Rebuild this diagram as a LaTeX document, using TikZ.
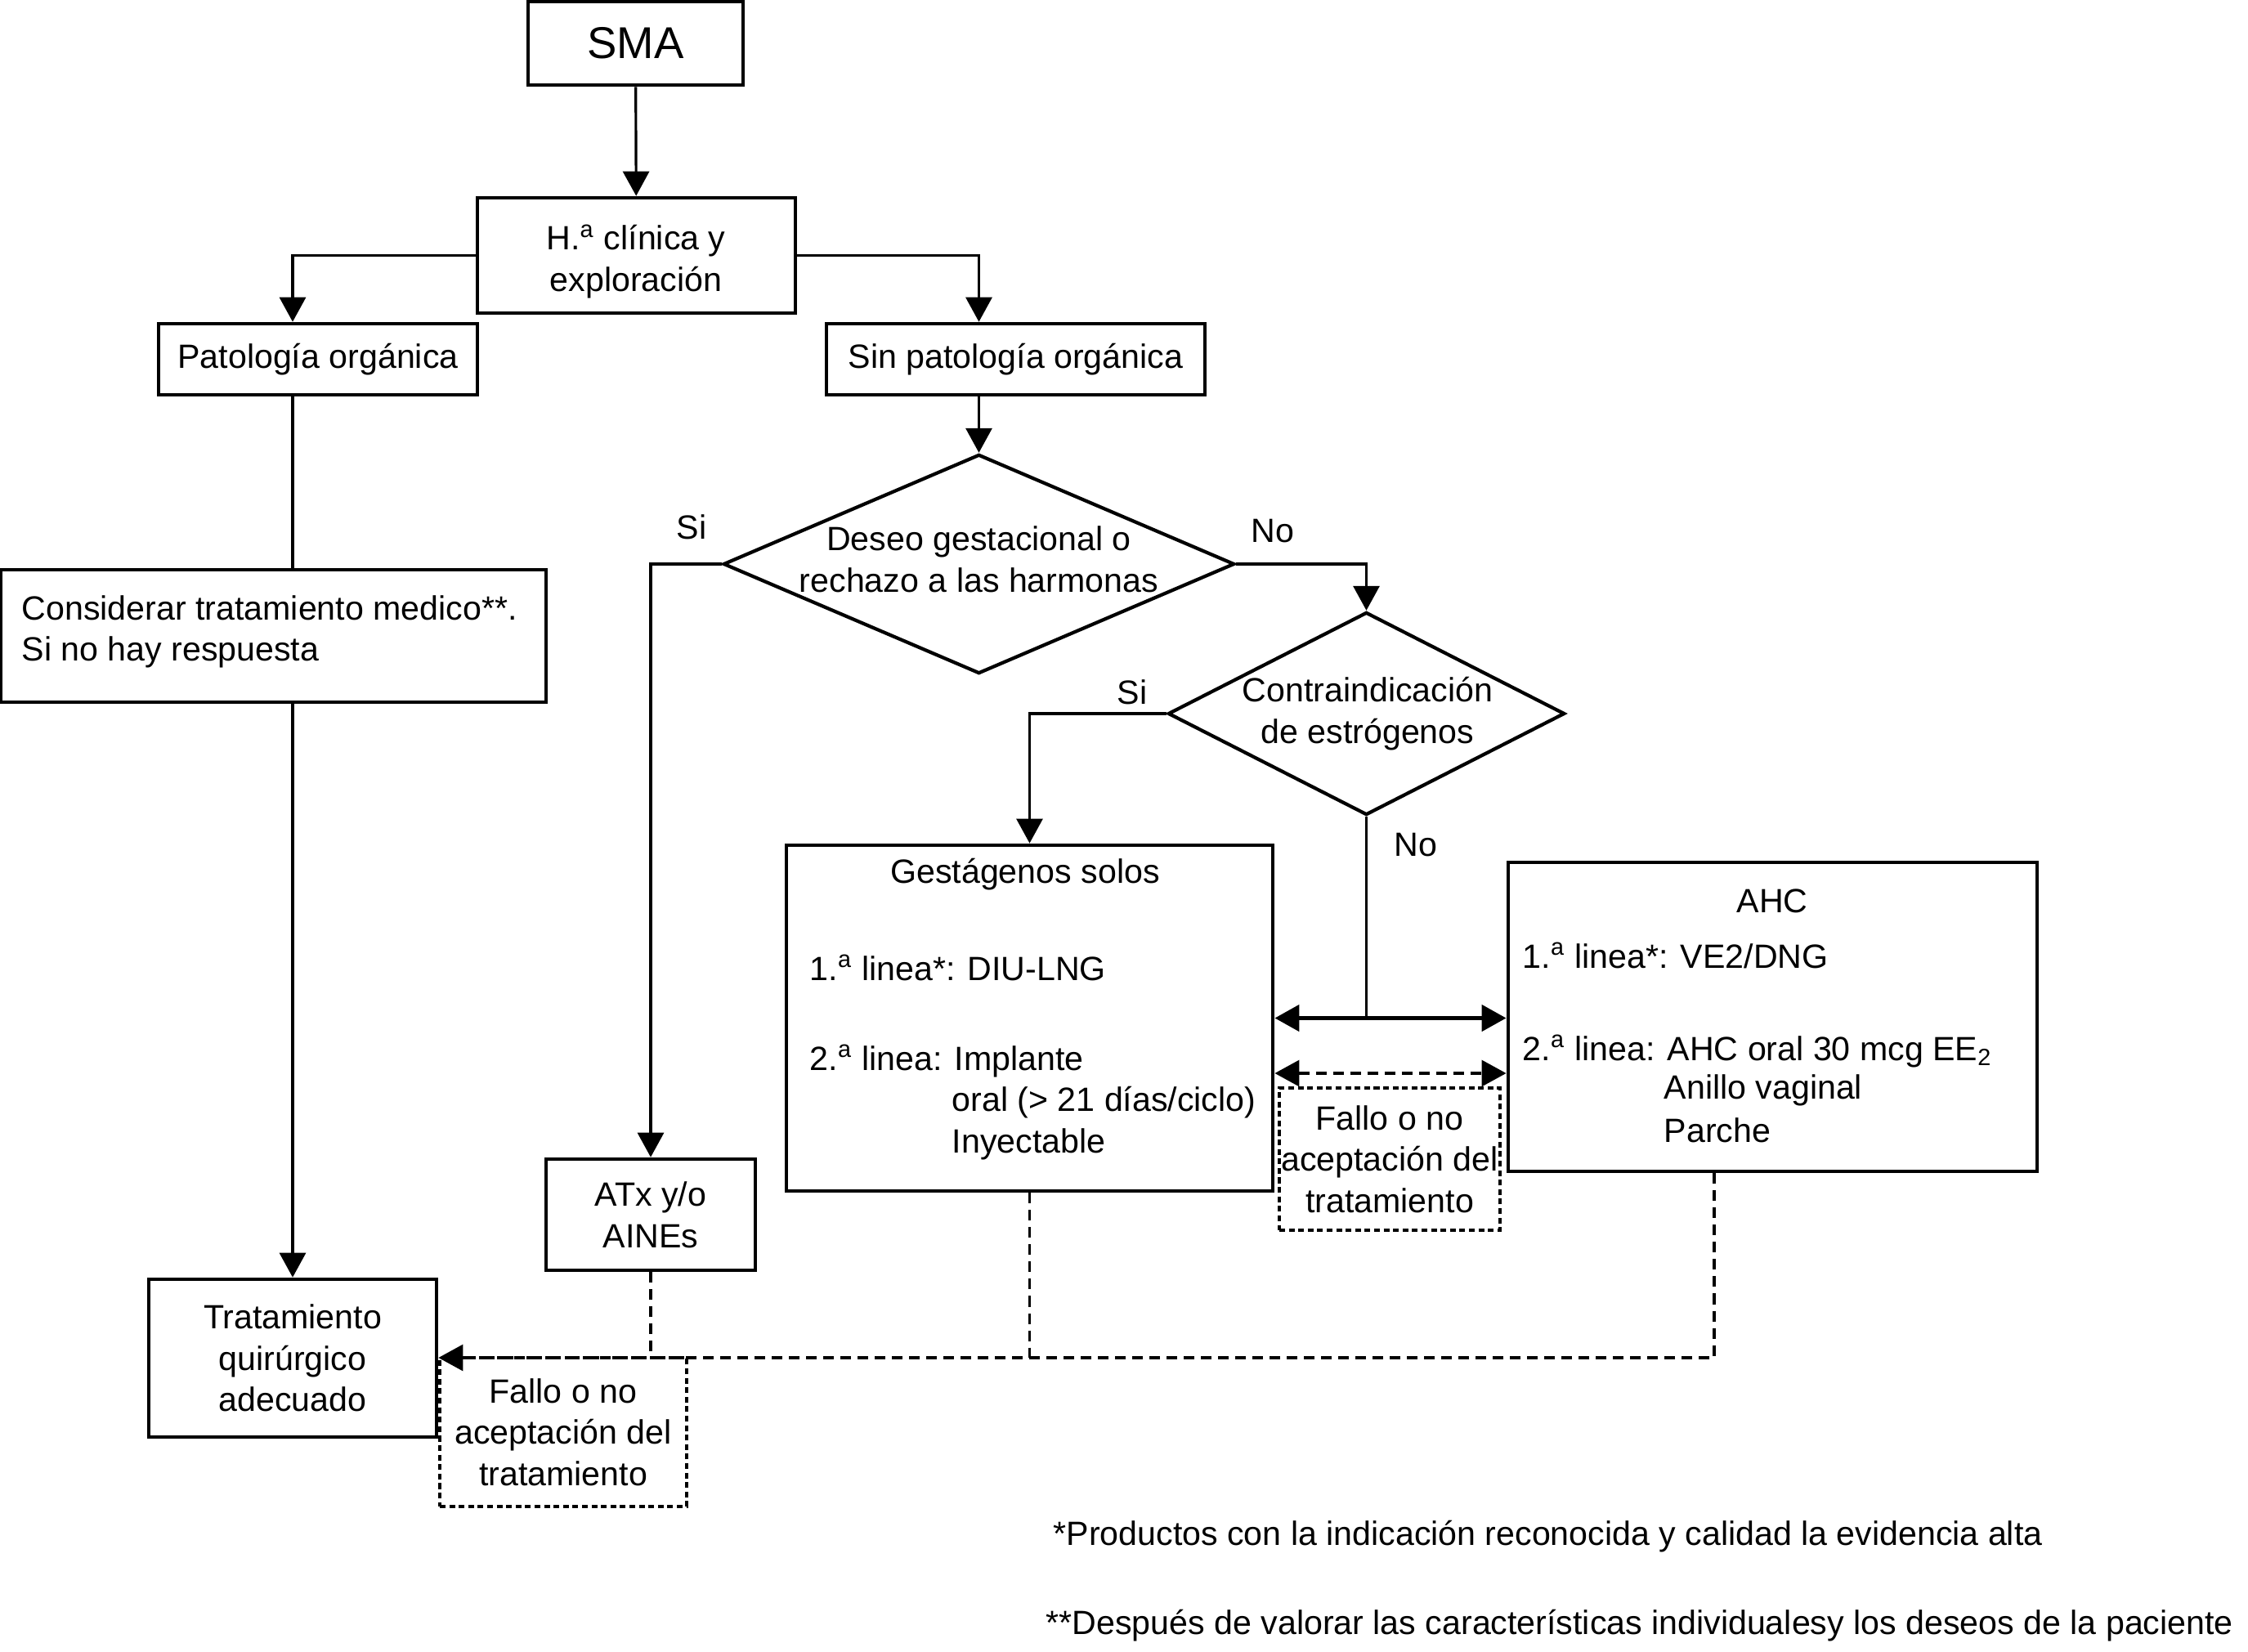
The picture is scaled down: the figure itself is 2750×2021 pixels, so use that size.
\documentclass[tikz,border=0pt]{standalone}
\usepackage{fontspec}
\setmainfont{Liberation Sans}
\usetikzlibrary{shapes.geometric,arrows.meta}

\begin{document}
\begin{tikzpicture}
    [x=0.01cm,y=-0.01cm,
    font=\fontsize{11.7}{14.4}\selectfont,
    >={Triangle[length=0.3cm,width=0.32cm]},
    box/.style={draw,line width=1.3pt,align=center,inner sep=0pt},
    decision/.style={draw,diamond,line width=1.2pt,inner sep=0pt},
    fallo/.style={draw,line width=1pt,dash pattern=on 2pt off 1.3pt,align=center,inner sep=0pt},
    txt/.style={anchor=west,align=left,inner sep=0pt},
    link/.style={line width=0.9pt},
    dashlink/.style={line width=0.9pt,dash pattern=on 0.13cm off 0.08cm}]
    \useasboundingbox (0,0) rectangle (2750,2021);
    %top boxes
    \node[box,minimum width=2.63cm,minimum height=1.02cm,font=\fontsize{15.5}{18}\selectfont] (sma) at (777.5,53) {SMA};
    \node[box,minimum width=3.89cm,minimum height=1.41cm] (hist) at (778.5,312.5) {};
    \node[align=center] (histtxt) at (778,320) {H.\textsuperscript{a} clínica y\\exploración};
    \node[box,minimum width=3.9cm,minimum height=0.87cm] (pat) at (389,439.5) {Patología orgánica};
    \node[box,minimum width=4.63cm,minimum height=0.87cm] (sin) at (1242.5,439.5) {Sin patología orgánica};
    %left column
    \node[box,minimum width=6.67cm,minimum height=1.62cm] (cons) at (334.5,778) {};
    \node[txt] (constxt) at (26,773) {Considerar tratamiento medico**.\\Si no hay respuesta};
    \node[box,minimum width=3.52cm,minimum height=1.93cm] (trat) at (358,1661.5) {Tratamiento\\quirúrgico\\adecuado};
    \node[box,minimum width=2.56cm,minimum height=1.36cm] (atx) at (796,1486) {ATx y/o\\AINEs};
    %decisions
    \node[decision,minimum width=6.25cm,minimum height=2.68cm] (d1) at (1197.5,690) {};
    \node[align=center] (d1txt) at (1197.5,684) {Deseo gestacional o\\rechazo a las harmonas};
    \node[decision,minimum width=4.85cm,minimum height=2.48cm] (d2) at (1671.5,873) {};
    \node[align=center] (d2txt) at (1673,873) {Contraindicación\\de estrógenos};
    \node (si1) at (846,645) {Si};
    \node (no1) at (1557,650) {No};
    \node (si2) at (1385,847) {Si};
    \node (no2) at (1732,1034) {No};
    %treatment boxes
    \node[box,minimum width=5.95cm,minimum height=4.23cm] (gest) at (1259.5,1245.5) {};
    \node (gest0) at (1254,1070) {Gestágenos solos};
    \node[txt] (gest1) at (990,1184) {1.\textsuperscript{a} linea*: DIU-LNG};
    \node[txt] (gest2) at (990,1298) {2.\textsuperscript{a} linea: Implante};
    \node[txt] (gest3) at (1164,1349) {oral (> 21 días/ciclo)};
    \node[txt] (gest4) at (1164,1400) {Inyectable};
    \node[box,minimum width=6.47cm,minimum height=3.78cm] (ahc) at (2168.5,1244) {};
    \node (ahc0) at (2168,1102) {AHC};
    \node[txt] (ahc1) at (1862,1169) {1.\textsuperscript{a} linea*: VE2/DNG};
    \node[txt] (ahc2) at (1862,1286) {2.\textsuperscript{a} linea: AHC oral 30 mcg EE\textsubscript{2}};
    \node[txt] (ahc3) at (2035,1334) {Anillo vaginal};
    \node[txt] (ahc4) at (2035,1383) {Parche};
    %failure boxes
    \node[fallo,minimum width=2.7cm,minimum height=1.74cm] (fallo1) at (1700,1418) {Fallo o no\\aceptación del\\tratamiento};
    \node[fallo,minimum width=3.02cm,minimum height=1.82cm] (fallo2) at (689,1752) {Fallo o no\\aceptación del\\tratamiento};
    %connectors
    \draw[link,->] (sma) -- (hist);
    \draw[link,->] (hist.west) -| (pat.north -| trat.north);
    \draw[link,->] (hist.east) -| (sin.north -| d1.north);
    \draw[link] (trat.north |- pat.south) -- (trat.north |- cons.north);
    \draw[link,->] (trat.north |- cons.south) -- (trat.north);
    \draw[link,->] (sin.south -| d1.north) -- (d1.north);
    \draw[link,->] (d1.west) -| (atx.north);
    \draw[link,->] (d1.east) -| (d2.north);
    \draw[link,->] (d2.west) -| (gest.north);
    \draw[link] (d2.south) -- (d2.south |- gest.east);
    \draw[line width=1.4pt,<->] (gest.east) -- (gest.east -| ahc.west);
    \coordinate (mid) at (1700,1313);
    \draw[dashlink,<->] (gest.east |- mid) -- (ahc.west |- mid);
    %failure line
    \coordinate (bus) at (2097,1661);
    \draw[dashlink,->] (ahc.south -| bus) -- (bus) -- (trat.east |- bus);
    \draw[dashlink] (gest.south) -- (gest.south |- bus);
    \draw[dashlink] (atx.south) -- (atx.south |- bus);
    %notes
    \node[txt] (note1) at (1288,1880) {*Productos con la indicación reconocida y calidad la evidencia alta};
    \node[txt] (note2) at (1279,1989) {**Después de valorar las características individualesy los deseos de la paciente};
\end{tikzpicture}
\end{document}
